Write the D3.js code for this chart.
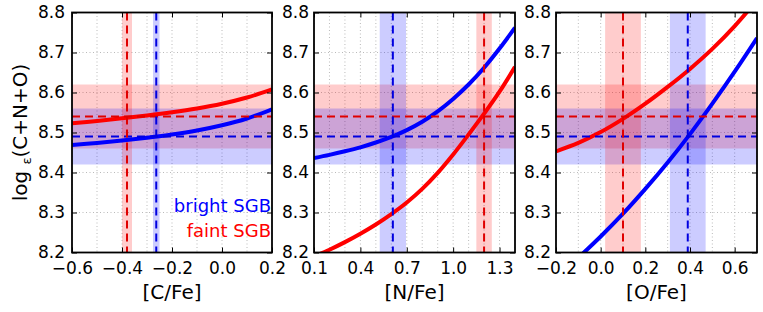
<!DOCTYPE html>
<html><head><meta charset="utf-8">
<script src="https://cdn.jsdelivr.net/npm/d3@7"></script>
<style>
body{margin:0;background:#fff;}
svg{display:block;font-family:"DejaVu Sans",sans-serif;}
</style></head>
<body><svg id="c" width="763" height="312"></svg>
<script>
// ---- data ----
const yDomain = [8.2, 8.8];
const yTicks = [8.2, 8.3, 8.4, 8.5, 8.6, 8.7, 8.8];

const panelLabels = ["[C/Fe]", "[N/Fe]", "[O/Fe]"];
const xDomains = [[-0.6, 0.2], [0.1, 1.4], [-0.2, 0.7]];
const xTicksC = [-0.6, -0.4, -0.2, 0.0, 0.2];
const xTicksN = [0.1, 0.4, 0.7, 1.0, 1.3];
const xTicksO = [-0.2, 0.0, 0.2, 0.4, 0.6];

// curves: x grid and log eps(C+N+O) for faint (red) and bright (blue) SGB
const cfeX     = [-0.6, -0.5, -0.4, -0.3, -0.2, -0.1, 0.0, 0.1, 0.2];
const cfeFaint = [8.523, 8.529, 8.5355, 8.5425, 8.5505, 8.560, 8.572, 8.5875, 8.6075];
const cfeBright= [8.469, 8.474, 8.480, 8.487, 8.495, 8.505, 8.518, 8.535, 8.558];

const nfeX     = [0.1, 0.2, 0.3, 0.4, 0.5, 0.6, 0.7, 0.8, 0.9, 1.0, 1.1, 1.2, 1.3, 1.4];
const nfeFaint = [8.190, 8.207, 8.226, 8.247, 8.270, 8.296, 8.325, 8.359, 8.399, 8.445, 8.495, 8.547, 8.602, 8.664];
const nfeBright= [8.436, 8.444, 8.453, 8.463, 8.475, 8.489, 8.506, 8.527, 8.553, 8.584, 8.620, 8.662, 8.710, 8.762];

const ofeX     = [-0.2, -0.1, 0.0, 0.1, 0.2, 0.3, 0.4, 0.5, 0.6, 0.7];
const ofeFaint = [8.453, 8.474, 8.501, 8.534, 8.572, 8.614, 8.659, 8.709, 8.766, 8.831];
const ofeBright= [8.137, 8.187, 8.240, 8.297, 8.359, 8.425, 8.496, 8.572, 8.652, 8.736];

// measured total abundances (horizontal lines + bands)
const faintCNO = 8.54, faintCNOerr = 0.08;
const brightCNO = 8.49, brightCNOerr = 0.07;
// measured abundance ratios [C/Fe], [N/Fe], [O/Fe] (vertical lines + bands)
const faintRatio = [-0.38, 1.20, 0.10];
const faintRatioErr = [0.02, 0.05, 0.08];
const brightRatio = [-0.263, 0.61, 0.39];
const brightRatioErr = [0.013, 0.085, 0.08];

const legendLabels = ["bright SGB", "faint SGB"];
const yLabelMain = "log ", yLabelSub = "ε", yLabelTail = "(C+N+O)";

// ---- layout ----
const RED = "#ff0000", BLUE = "#0000ff";
const panels = [
  {x0: 72, x1: 272, ticks: xTicksC, xs: cfeX, faint: cfeFaint, bright: cfeBright},
  {x0: 314, x1: 515, ticks: xTicksN, xs: nfeX, faint: nfeFaint, bright: nfeBright},
  {x0: 556, x1: 757, ticks: xTicksO, xs: ofeX, faint: ofeFaint, bright: ofeBright}
];
const yTop = 12.5, yBot = 252.5;
const svg = d3.select("#c");
const y = d3.scaleLinear().domain(yDomain).range([yBot, yTop]);
const fmt = d3.format(".1f");

panels.forEach((p, i) => {
  const x = d3.scaleLinear().domain(xDomains[i]).range([p.x0, p.x1]);
  const g = svg.append("g");
  const clipId = "clip" + i;
  svg.append("clipPath").attr("id", clipId).append("rect")
    .attr("x", p.x0).attr("y", yTop).attr("width", p.x1 - p.x0).attr("height", yBot - yTop);
  const inner = g.append("g").attr("clip-path", `url(#${clipId})`);

  // grid (every 0.1)
  const gridX = d3.range(Math.ceil(xDomains[i][0]*10 - 1e-6), Math.floor(xDomains[i][1]*10 + 1e-6) + 1).map(v => v/10);
  inner.selectAll(".gx").data(gridX).join("line")
    .attr("x1", d => x(d)).attr("x2", d => x(d)).attr("y1", yTop).attr("y2", yBot)
    .attr("stroke", "#a8a8a8").attr("stroke-width", 0.8).attr("stroke-dasharray", "1,2.5");
  inner.selectAll(".gy").data(yTicks).join("line")
    .attr("x1", p.x0).attr("x2", p.x1).attr("y1", d => y(d)).attr("y2", d => y(d))
    .attr("stroke", "#a8a8a8").attr("stroke-width", 0.8).attr("stroke-dasharray", "1,2.5");

  // horizontal bands
  inner.append("rect").attr("x", p.x0).attr("width", p.x1 - p.x0)
    .attr("y", y(faintCNO + faintCNOerr)).attr("height", y(faintCNO - faintCNOerr) - y(faintCNO + faintCNOerr))
    .attr("fill", RED).attr("fill-opacity", 0.2);
  inner.append("rect").attr("x", p.x0).attr("width", p.x1 - p.x0)
    .attr("y", y(brightCNO + brightCNOerr)).attr("height", y(brightCNO - brightCNOerr) - y(brightCNO + brightCNOerr))
    .attr("fill", BLUE).attr("fill-opacity", 0.2);
  // vertical bands
  inner.append("rect").attr("y", yTop).attr("height", yBot - yTop)
    .attr("x", x(faintRatio[i] - faintRatioErr[i])).attr("width", x(faintRatio[i] + faintRatioErr[i]) - x(faintRatio[i] - faintRatioErr[i]))
    .attr("fill", RED).attr("fill-opacity", 0.2);
  inner.append("rect").attr("y", yTop).attr("height", yBot - yTop)
    .attr("x", x(brightRatio[i] - brightRatioErr[i])).attr("width", x(brightRatio[i] + brightRatioErr[i]) - x(brightRatio[i] - brightRatioErr[i]))
    .attr("fill", BLUE).attr("fill-opacity", 0.2);

  // curves
  const line = d3.line().x(d => x(d[0])).y(d => y(d[1])).curve(d3.curveCatmullRom.alpha(0.5));
  inner.append("path").datum(d3.zip(p.xs, p.faint)).attr("d", line)
    .attr("fill", "none").attr("stroke", RED).attr("stroke-width", 4);
  inner.append("path").datum(d3.zip(p.xs, p.bright)).attr("d", line)
    .attr("fill", "none").attr("stroke", BLUE).attr("stroke-width", 4);

  // dashed lines
  const dash = "8,5";
  inner.append("line").attr("x1", p.x0).attr("x2", p.x1).attr("y1", y(faintCNO)).attr("y2", y(faintCNO))
    .attr("stroke", "#e00000").attr("stroke-width", 2).attr("stroke-dasharray", dash);
  inner.append("line").attr("x1", p.x0).attr("x2", p.x1).attr("y1", y(brightCNO)).attr("y2", y(brightCNO))
    .attr("stroke", "#0000e0").attr("stroke-width", 2).attr("stroke-dasharray", dash);
  inner.append("line").attr("y1", yTop).attr("y2", yBot).attr("x1", x(faintRatio[i])).attr("x2", x(faintRatio[i]))
    .attr("stroke", "#e00000").attr("stroke-width", 2).attr("stroke-dasharray", dash);
  inner.append("line").attr("y1", yTop).attr("y2", yBot).attr("x1", x(brightRatio[i])).attr("x2", x(brightRatio[i]))
    .attr("stroke", "#0000e0").attr("stroke-width", 2).attr("stroke-dasharray", dash);

  // axes with inward ticks
  const ax = (gen, tx) => g.append("g").attr("transform", tx).call(gen)
    .call(s => s.select(".domain").remove());
  const bx = ax(d3.axisBottom(x).tickValues(p.ticks).tickFormat(fmt).tickSizeInner(-5).tickSizeOuter(0).tickPadding(9), `translate(0,${yBot})`);
  bx.selectAll("text").attr("font-size", 17).attr("fill", "#000").attr("font-family", "DejaVu Sans");
  bx.selectAll("line").attr("stroke", "#000");
  const tx = ax(d3.axisTop(x).tickValues(p.ticks).tickFormat("").tickSizeInner(-5).tickSizeOuter(0), `translate(0,${yTop})`);
  tx.selectAll("line").attr("stroke", "#000");
  const ly = ax(d3.axisLeft(y).tickValues(yTicks).tickFormat(fmt).tickSizeInner(-5).tickSizeOuter(0).tickPadding(i === 0 ? 7 : 5), `translate(${p.x0},0)`);
  ly.selectAll("text").attr("font-size", 17).attr("fill", "#000").attr("font-family", "DejaVu Sans");
  ly.selectAll("line").attr("stroke", "#000");
  const ry = ax(d3.axisRight(y).tickValues(yTicks).tickFormat("").tickSizeInner(-5).tickSizeOuter(0), `translate(${p.x1},0)`);
  ry.selectAll("line").attr("stroke", "#000");

  // frame
  g.append("rect").attr("x", p.x0).attr("y", yTop).attr("width", p.x1 - p.x0).attr("height", yBot - yTop)
    .attr("fill", "none").attr("stroke", "#000").attr("stroke-width", 1.8);

  // x label
  g.append("text").attr("x", (p.x0 + p.x1) / 2).attr("y", 299).attr("text-anchor", "middle")
    .attr("font-size", 20).text(panelLabels[i]);
});

// legend text in first panel
svg.append("text").attr("x", 271).attr("y", 212).attr("text-anchor", "end")
  .attr("font-size", 18).attr("fill", BLUE).text(legendLabels[0]);
svg.append("text").attr("x", 271).attr("y", 237).attr("text-anchor", "end")
  .attr("font-size", 18).attr("fill", RED).text(legendLabels[1]);

// y label
const yl = svg.append("text").attr("transform", `translate(27,${(yTop + yBot) / 2}) rotate(-90)`)
  .attr("text-anchor", "middle").attr("font-size", 20);
yl.append("tspan").text(yLabelMain);
yl.append("tspan").attr("font-size", 13).attr("dy", 4).text(yLabelSub);
yl.append("tspan").attr("dy", -4).text(yLabelTail);
</script></body></html>
